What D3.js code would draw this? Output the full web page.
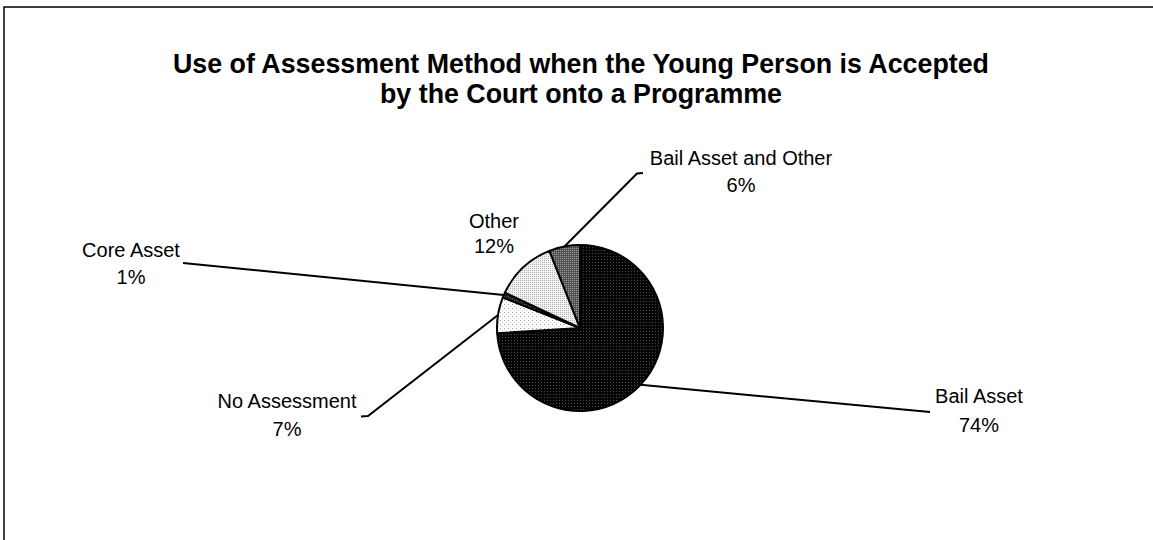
<!DOCTYPE html>
<html>
<head>
<meta charset="utf-8">
<script src="https://cdn.jsdelivr.net/npm/d3@7"></script>
<style>
  html, body { margin: 0; padding: 0; background: #fff; }
  svg { display: block; }
  text { font-family: Arial, "Liberation Sans", Helvetica, sans-serif; fill: #000; }
</style>
</head>
<body>
<svg id="chart" width="1153" height="540"></svg>
<script>
// ---- data ----
const categories = ["Bail Asset", "No Assessment", "Core Asset", "Other", "Bail Asset and Other"];
const values = [74, 7, 1, 12, 6];
const percentLabels = ["74%", "7%", "1%", "12%", "6%"];
const titleLines = ["Use of Assessment Method when the Young Person is Accepted",
                    "by the Court onto a Programme"];

// ---- layout (positions only) ----
const W = 1153, H = 540;
const cx = 580, cy = 328, R = 83;
// label block: centre x, baseline of line 1, baseline of line 2, leader path points (after the slice edge point)
const labelLayout = [
  { x: 979, y1: 403, y2: 432, leader: [[930, 412]] },
  { x: 287, y1: 408, y2: 436, leader: [[368, 416], [361, 416.5]] },
  { x: 131, y1: 257, y2: 284, leader: [[183, 263]] },
  { x: 494, y1: 228, y2: 253, leader: null },
  { x: 741, y1: 165, y2: 192, leader: [[637, 173.5], [643, 173]] }
];

const svg = d3.select("#chart");
const defs = svg.append("defs");

function pattern(id, size, bg, dots) {
  const p = defs.append("pattern").attr("id", id)
    .attr("patternUnits", "userSpaceOnUse").attr("width", size).attr("height", size);
  p.append("rect").attr("width", size).attr("height", size).attr("fill", bg);
  dots.forEach(([x, y, c]) => p.append("rect").attr("x", x).attr("y", y)
    .attr("width", 1).attr("height", 1).attr("fill", c));
}
pattern("pBail", 3, "#050505", [[0, 0, "#4a4a4a"]]);
pattern("pNone", 4, "#ffffff", [[0, 0, "#9a9a9a"], [2, 2, "#c8c8c8"]]);
pattern("pCore", 2, "#222", [[0, 0, "#555"]]);
pattern("pOther", 2, "#f2f2f2", [[0, 0, "#b0b0b0"]]);
pattern("pBAO", 2, "#5a5a5a", [[0, 0, "#9a9a9a"], [1, 1, "#444"]]);
const fills = ["url(#pBail)", "url(#pNone)", "url(#pCore)", "url(#pOther)", "url(#pBAO)"];

svg.append("rect").attr("width", W).attr("height", H).attr("fill", "#fff");

// frame (open at right and bottom like the reference crop)
svg.append("path")
  .attr("d", `M4,${H + 5} L4,7 L${W + 5},7`)
  .attr("fill", "none").attr("stroke", "#000").attr("stroke-width", 1.5);

// title
const title = svg.append("text")
  .attr("x", 581).attr("text-anchor", "middle")
  .style("font-weight", "bold").style("font-size", "26.8px");
title.selectAll("tspan").data(titleLines).join("tspan")
  .attr("x", 581).attr("y", (d, i) => 73 + i * 30).text(d => d);

// pie
const pieGen = d3.pie().sort(null).value(d => d)(values);
const arcGen = d3.arc().innerRadius(0).outerRadius(R);
const g = svg.append("g").attr("transform", `translate(${cx},${cy})`);
g.selectAll("path.slice").data(pieGen).join("path")
  .attr("class", "slice")
  .attr("d", arcGen)
  .attr("fill", (d, i) => fills[i])
  .attr("stroke", "#000").attr("stroke-width", 2).attr("stroke-linejoin", "round");

// leader lines
const line = d3.line();
pieGen.forEach((d, i) => {
  const L = labelLayout[i];
  if (!L.leader) return;
  const a = (d.startAngle + d.endAngle) / 2;
  const start = [cx + R * Math.sin(a), cy - R * Math.cos(a)];
  svg.append("path")
    .attr("d", line([start, ...L.leader]))
    .attr("fill", "none").attr("stroke", "#000").attr("stroke-width", 2);
});

// labels
labelLayout.forEach((L, i) => {
  const t = svg.append("text").attr("text-anchor", "middle").style("font-size", "20px");
  t.append("tspan").attr("x", L.x).attr("y", L.y1).text(categories[i]);
  t.append("tspan").attr("x", L.x).attr("y", L.y2).text(percentLabels[i]);
});
</script>
</body>
</html>
